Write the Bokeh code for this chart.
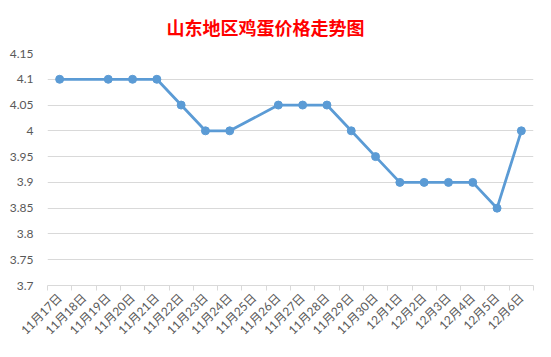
import math
from bokeh.plotting import figure
from bokeh.models import ColumnDataSource, FixedTicker, Range1d, Title
from bokeh.embed import file_html
from bokeh.resources import INLINE

title_text = "山东地区鸡蛋价格走势图"
categories = ["11月17日", "11月18日", "11月19日", "11月20日", "11月21日", "11月22日",
              "11月23日", "11月24日", "11月25日", "11月26日", "11月27日", "11月28日",
              "11月29日", "11月30日", "12月1日", "12月2日", "12月3日", "12月4日",
              "12月5日", "12月6日"]
prices = [4.10, None, 4.10, 4.10, 4.10, 4.05, 4.00, 4.00, None, 4.05, 4.05, 4.05,
          4.00, 3.95, 3.90, 3.90, 3.90, 3.90, 3.85, 4.00]
y_ticks = [3.70, 3.75, 3.80, 3.85, 3.90, 3.95, 4.00, 4.05, 4.10, 4.15]
y_tick_labels = ["3.7", "3.75", "3.8", "3.85", "3.9", "3.95", "4", "4.05", "4.1", "4.15"]

xs = [i + 0.5 for i, v in enumerate(prices) if v is not None]
ys = [v for v in prices if v is not None]
src = ColumnDataSource(dict(x=xs, y=ys))

p = figure(width=551, height=357, output_backend="svg", toolbar_location=None,
           x_range=Range1d(0, len(categories)), y_range=Range1d(3.7, 4.15),
           min_border_left=47, min_border_right=18, min_border_top=53, min_border_bottom=72)
p.title = Title(text=title_text, text_color="#FF0000", text_font_size="18px",
                text_font="Noto Sans CJK SC", text_font_style="bold", align="left",
                offset=119, standoff=24, vertical_align="top")
p.outline_line_color = None
p.background_fill_color = "white"
p.border_fill_color = "white"

p.line("x", "y", source=src, line_color="#5B9BD5", line_width=2.8)
p.scatter("x", "y", source=src, size=8, fill_color="#5B9BD5", line_color="#5B9BD5")

label_font = "Lato, 'Noto Sans CJK SC'"
xa = p.xaxis[0]
xa.ticker = FixedTicker(ticks=[i + 0.5 for i in range(len(categories))],
                        minor_ticks=list(range(len(categories) + 1)))
xa.major_label_overrides = {i + 0.5: c for i, c in enumerate(categories)}
xa.major_label_orientation = math.pi / 4
xa.major_tick_line_color = None
xa.minor_tick_line_color = "#D9D9D9"
xa.minor_tick_out = 5
xa.minor_tick_in = 0
xa.axis_line_color = "#D9D9D9"
xa.major_label_text_color = "#595959"
xa.major_label_text_font_size = "12px"
xa.major_label_text_font = label_font
xa.major_label_standoff = 4

ya = p.yaxis[0]
ya.ticker = FixedTicker(ticks=y_ticks)
ya.major_label_overrides = {t: l for t, l in zip(y_ticks, y_tick_labels)}
ya.axis_line_color = None
ya.major_tick_line_color = None
ya.minor_tick_line_color = None
ya.major_label_text_color = "#595959"
ya.major_label_text_font_size = "12px"
ya.major_label_text_font = label_font
ya.major_label_standoff = 8

p.xgrid.grid_line_color = None
p.ygrid.grid_line_color = "#D9D9D9"
p.ygrid.ticker = FixedTicker(ticks=y_ticks[1:])

open("out.html", "w").write(file_html(p, INLINE))
